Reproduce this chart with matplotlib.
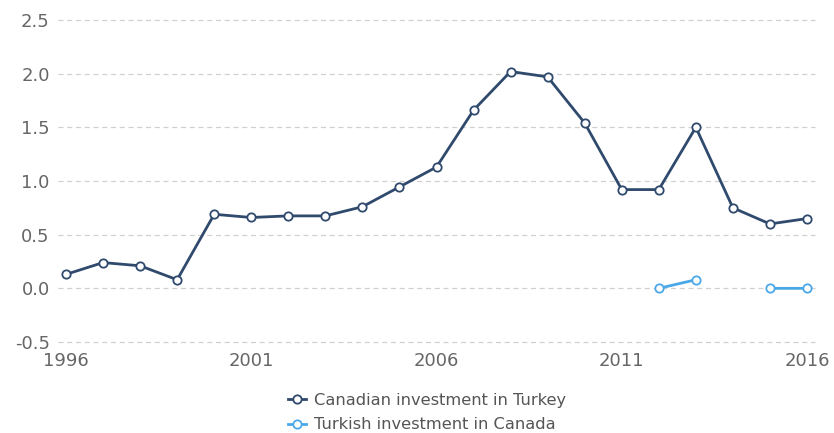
import numpy as np
import matplotlib.pyplot as plt

years = list(range(1996, 2017))
canadian_in_turkey = [0.13, 0.24, 0.21, 0.08, 0.69, 0.66, 0.675, 0.675, 0.76, 0.945,
                      1.13, 1.66, 2.02, 1.97, 1.54, 0.92, 0.92, 1.50, 0.75, 0.60, 0.65]
turkish_in_canada = [np.nan] * 16 + [0.0, 0.08, np.nan, 0.0, 0.0]

navy = '#2f4a6d'
light_blue = '#4aa8e8'

plt.rcParams['axes.unicode_minus'] = False


def main():
	fig = plt.figure(figsize=(8.34, 4.33), dpi=100)
	# grid runs ~8px past the first and last year
	ax = fig.add_axes([58 / 834, 1 - 342 / 433, (815 - 58) / 834, (342 - 20) / 433])
	pad_years = 8 / 37.05

	ax.plot(years, canadian_in_turkey, color=navy, lw=2, marker='o', ms=6,
		markerfacecolor='white', markeredgecolor=navy, markeredgewidth=1.3,
		label='Canadian investment in Turkey', zorder=3)
	ax.plot(years, turkish_in_canada, color=light_blue, lw=2, marker='o', ms=6,
		markerfacecolor='white', markeredgecolor=light_blue, markeredgewidth=1.3,
		label='Turkish investment in Canada', zorder=3)

	ax.set_xlim(1996 - pad_years, 2016 + pad_years)
	ax.set_ylim(-0.5, 2.5)
	ax.set_xticks([1996, 2001, 2006, 2011, 2016])
	ax.set_yticks([-0.5, 0.0, 0.5, 1.0, 1.5, 2.0, 2.5])
	ax.set_yticklabels(['%.1f' % v for v in ax.get_yticks()])
	ax.grid(axis='y', color='#d0d0d0', linestyle=(0, (4, 3)), lw=0.9)
	for gl in ax.get_ygridlines():
		gl.set_clip_on(False)
	ax.set_axisbelow(True)
	for s in ax.spines.values():
		s.set_visible(False)
	ax.tick_params(length=0, labelsize=13, labelcolor='#666666')
	ax.tick_params(axis='y', pad=6)
	ax.tick_params(axis='x', pad=7)

	leg = fig.legend(loc='upper center', bbox_to_anchor=(0.512, 0.112), ncol=1,
		frameon=False, fontsize=11.7, handlelength=1.1, handletextpad=0.45,
		labelspacing=0.6, borderpad=0)
	for t in leg.get_texts():
		t.set_color('#555555')

	fig.savefig('out.png', dpi=100)
	plt.close()


if __name__ == '__main__':
	main()
